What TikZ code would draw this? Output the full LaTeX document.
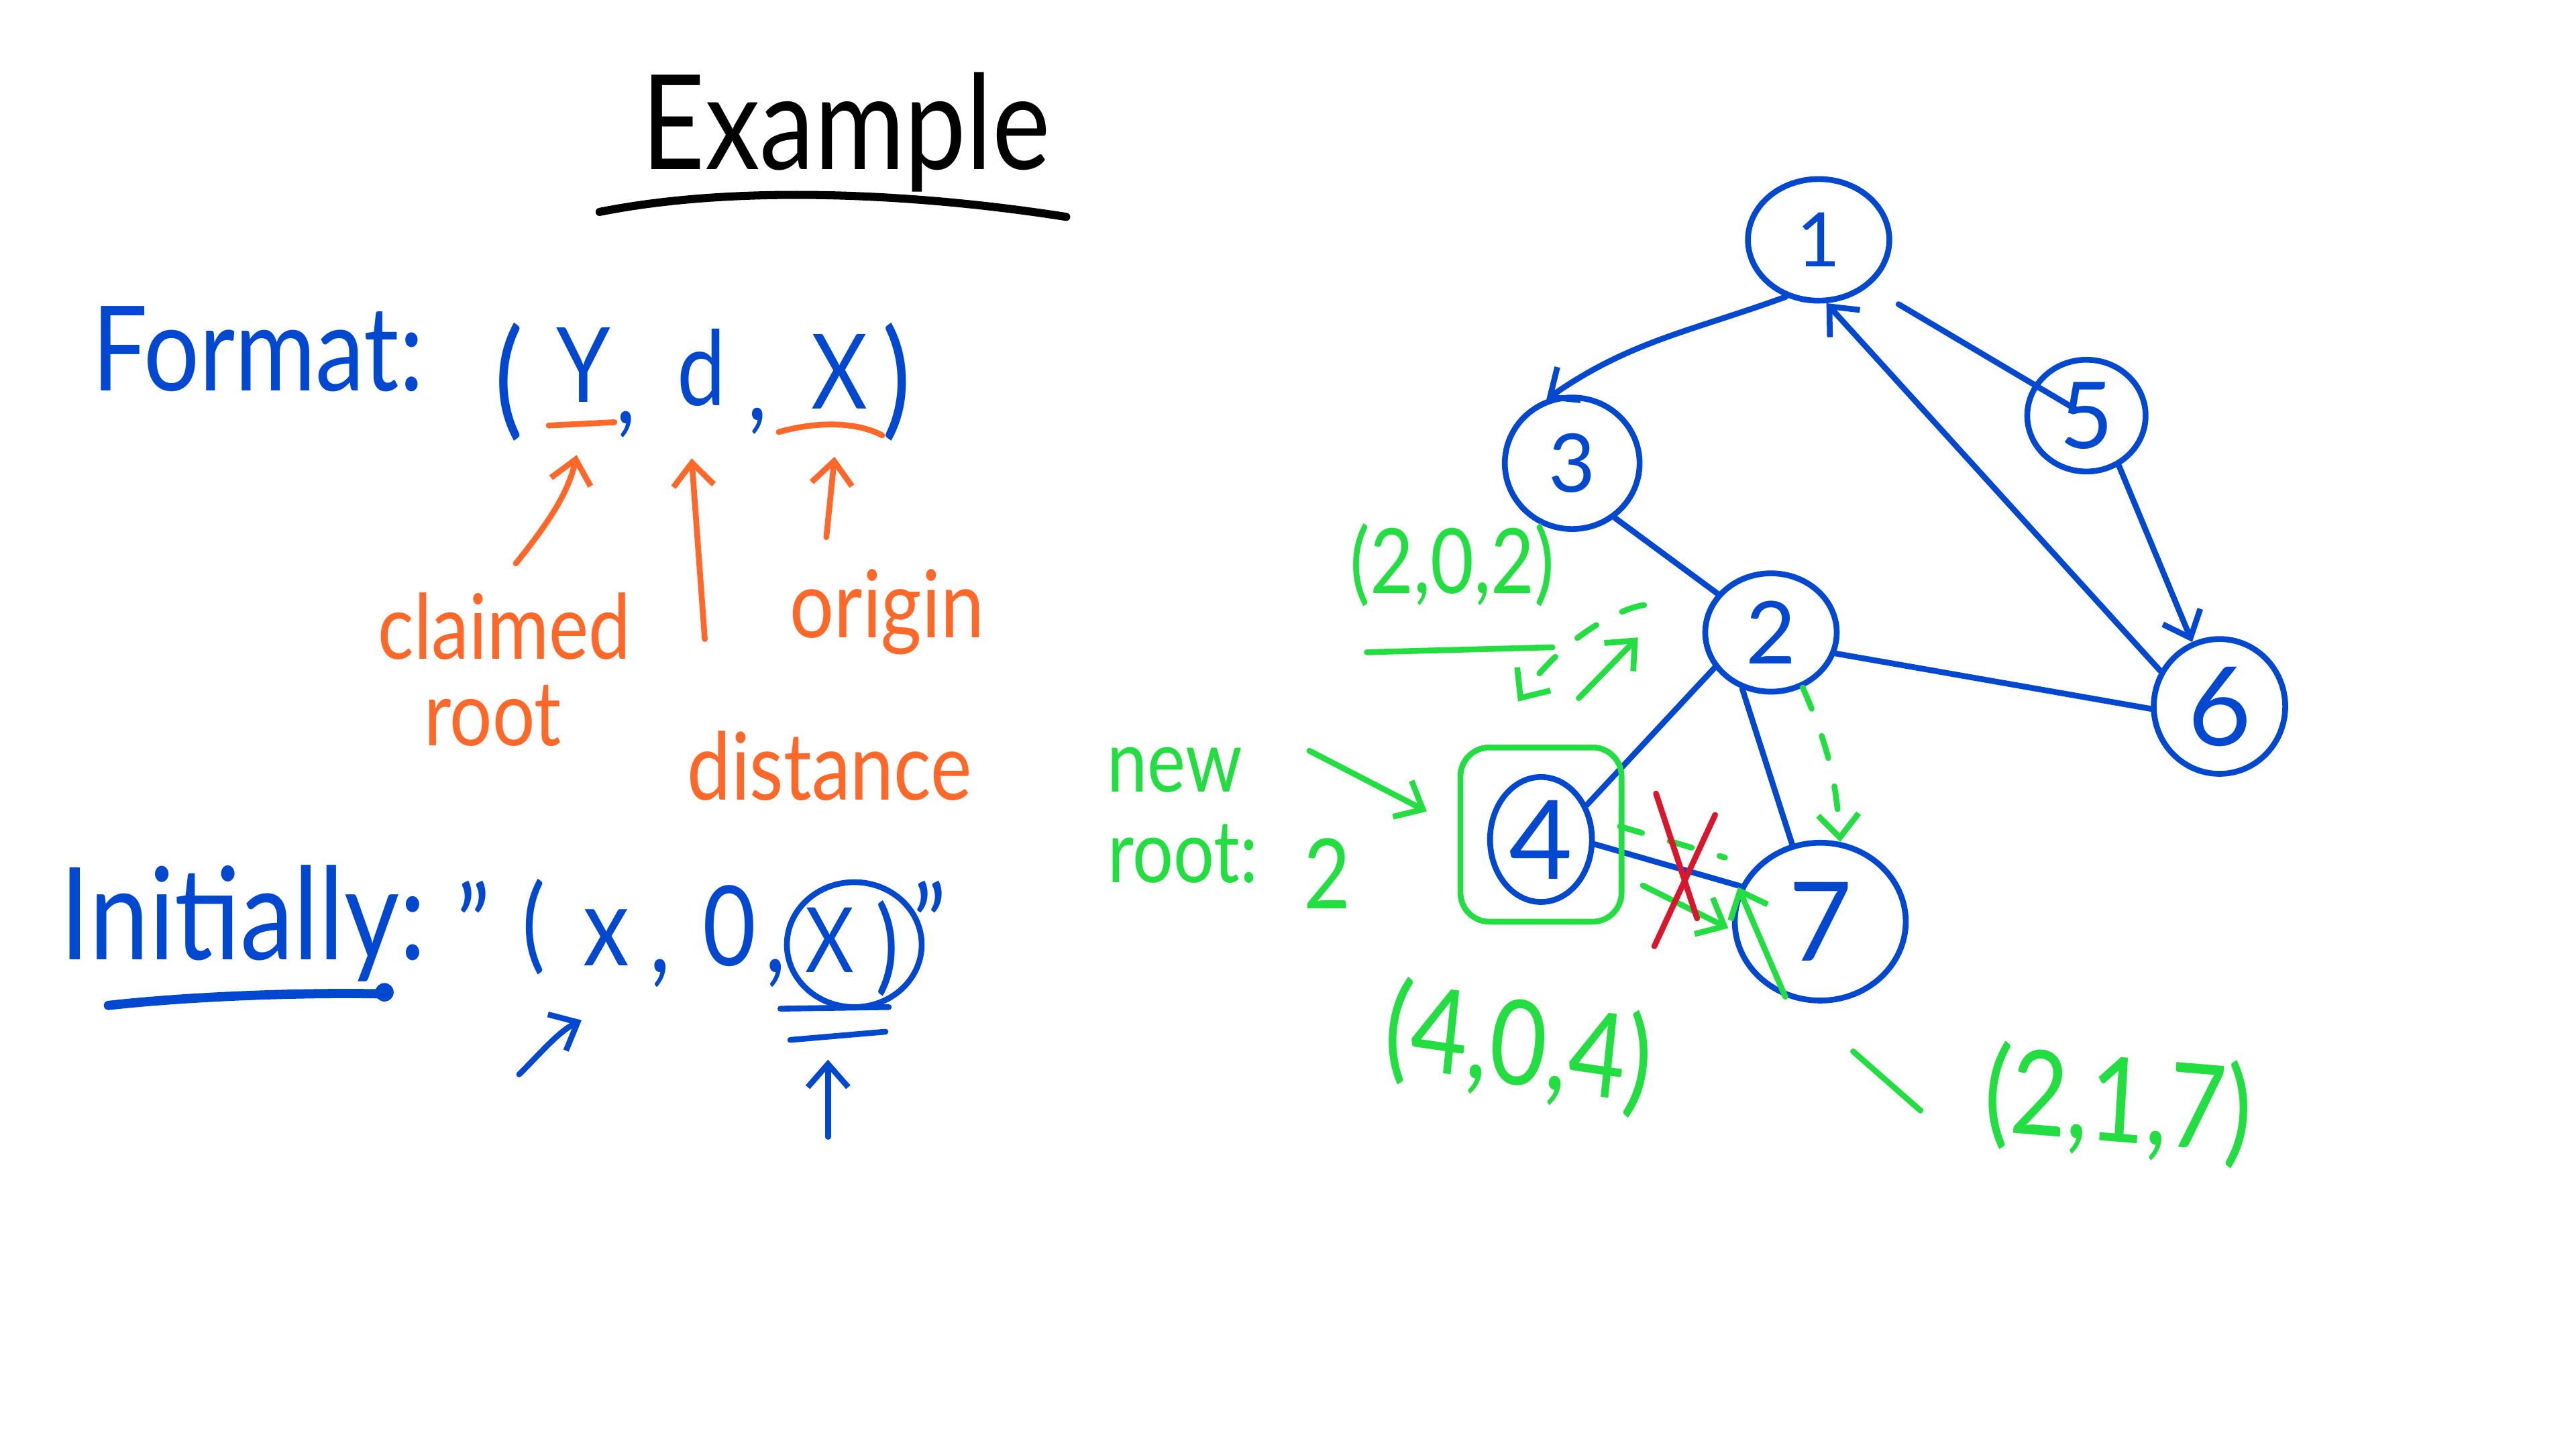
\documentclass[tikz,border=0pt]{standalone}
\usepackage{fontspec}
\setmainfont{Lato}
\usetikzlibrary{shapes.geometric,arrows.meta}

\definecolor{penblue}{RGB}{0,72,208}
\definecolor{pengreen}{RGB}{34,222,64}
\definecolor{penorange}{RGB}{255,104,40}
\definecolor{penred}{RGB}{218,22,44}

\newcommand{\fs}[1]{\fontsize{#1}{#1}\selectfont}

\begin{document}
\begin{tikzpicture}[
    x = 0.01cm, y = -0.01cm,
    pen/.style = {line width = 1pt, line cap = round, line join = round},
    barb/.style = {-{Straight Barb[length=4pt, width=7pt]}},
    hand/.style = {inner sep = 0pt, anchor = base, yscale = 1.2},
    bluetext/.style = {hand, text = penblue},
    greentext/.style = {hand, text = pengreen},
    orangetext/.style = {hand, text = penorange},
    vertex/.style = {ellipse, draw = penblue, pen, inner sep = 0pt, text = penblue},
    bluepen/.style = {pen, draw = penblue},
    greenpen/.style = {pen, draw = pengreen},
    orangepen/.style = {pen, draw = penorange},
    gdash/.style = {greenpen, dash pattern = on 4pt off 5pt}]

\fill[white] (0,0) rectangle (1568,882);
\useasboundingbox (0,0) rectangle (1568,882);

% title
\node[hand, font=\fs{19}] (title) at (515,103) {Example};
\draw[pen, line width=1.4pt] (365,129) .. controls (450,112) and (560,118) .. (649,132);

% format of a message
\node[bluetext, font=\fs{17}] (format) at (157,238) {Format:};
\node[bluetext, font=\fs{18.5}] (fmtL) at (310,257) {(};
\node[bluetext, font=\fs{15}] (fmtY) at (355,245) {Y};
\node[bluetext, font=\fs{15}] (fmtC1) at (381,258) {,};
\node[bluetext, font=\fs{15}] (fmtD) at (427,247) {d};
\node[bluetext, font=\fs{15}] (fmtC2) at (461,256) {,};
\node[bluetext, font=\fs{15}] (fmtX) at (511,249) {X};
\node[bluetext, font=\fs{18.5}] (fmtR) at (546,257) {)};
\draw[orangepen] (334,259) -- (374,257);
\draw[orangepen] (474,263) .. controls (495,257) and (520,256) .. (537,265);

\node[orangetext, font=\fs{13}] (claimed) at (307,401) {claimed};
\node[orangetext, font=\fs{13}] (root) at (300,454) {root};
\node[orangetext, font=\fs{13.5}] (origin) at (540,388) {origin};
\node[orangetext, font=\fs{13.5}] (distance) at (505,487) {distance};
\coordinate (clmA) at (314,343); \coordinate (clmB) at (351,277);
\coordinate (dstA) at (429,389); \coordinate (dstB) at (421,279);
\coordinate (orgA) at (503,327); \coordinate (orgB) at (508,278);
\draw[orangepen, barb] (clmA) .. controls (334,318) and (346,300) .. (clmB);
\draw[orangepen, barb] (dstA) -- (dstB);
\draw[orangepen, barb] (orgA) -- (orgB);

% initial message
\node[bluetext, font=\fs{18.5}] (initially) at (148,584) {Initially:};
\draw[bluepen, line width=1.6pt] (66,612) .. controls (120,606) and (190,604) .. (234,605);
\fill[penblue] (234,604) circle[radius=1.6pt];
\node[bluetext, font=\fs{16}] (iniQL) at (288,588) {"};
\node[bluetext, font=\fs{15}] (iniL) at (325,584) {(};
\node[bluetext, font=\fs{16}] (iniX) at (369,588) {x};
\node[bluetext, font=\fs{16}] (iniC1) at (402,592) {,};
\node[bluetext, font=\fs{16}] (iniZ) at (444,588) {0};
\node[bluetext, font=\fs{16}] (iniC2) at (472,592) {,};
\node[bluetext, font=\fs{13}] (iniO) at (505,592) {X};
\node[bluetext, font=\fs{15}] (iniR) at (540,597) {)};
\node[bluetext, font=\fs{16}] (iniQR) at (566,588) {"};
\node[ellipse, draw=penblue, pen, minimum width=0.82cm, minimum height=0.76cm] (iniRing) at (520,575) {};
\draw[bluepen] (475,614) -- (541,613);
\draw[bluepen] (481,633) -- (539,628);
\coordinate (iniA) at (316,654); \coordinate (iniB) at (354,621);
\coordinate (iniC) at (504,692); \coordinate (iniD) at (504,645);
\draw[bluepen, barb] (iniA) .. controls (330,640) and (340,628) .. (iniB);
\draw[bluepen, barb] (iniC) -- (iniD);

% graph
\node[vertex, minimum width=0.86cm, minimum height=0.74cm, font=\fs{13}] (n1) at (1107,146) {1};
\node[vertex, minimum width=0.82cm, minimum height=0.80cm, font=\fs{14}] (n3) at (957,282) {3};
\node[vertex, minimum width=0.72cm, minimum height=0.68cm, font=\fs{16}] (n5) at (1270,253) {5};
\node[vertex, minimum width=0.80cm, minimum height=0.72cm, font=\fs{15}] (n2) at (1078,385) {2};
\node[vertex, minimum width=0.80cm, minimum height=0.82cm, font=\fs{19}] (n6) at (1351,430) {6};
\node[vertex, minimum width=0.62cm, minimum height=0.76cm, font=\fs{19}] (n4) at (938,511) {4};
\node[vertex, minimum width=1.04cm, minimum height=0.96cm, font=\fs{19}] (n7) at (1108,561) {7};

\draw[bluepen, barb] (n1.240) to[out=200, in=35] (n3.112);
\draw[bluepen, shorten <=6pt, shorten >=2pt] (n1.317) -- (n5.center);
\draw[bluepen, barb] (n6.149) -- (n1.277);
\draw[bluepen, barb] (n5.303) -- (n6.113);
\draw[bluepen] (n3.308) -- (n2.144);
\draw[bluepen] (n2.342) -- (n6.182);
\draw[bluepen] (n2.212) -- (n4.37);
\draw[bluepen] (n2.243) -- (n7.110);
\draw[bluepen] (n4.355) -- (n7.156);

% messages on the graph
\node[greentext, font=\fs{13}] (res202) at (884,361) {(2,0,2)};
\draw[greenpen] (832,397) -- (945,394);
\coordinate (ret202) at (924,427);
\draw[gdash, barb, shorten <=12pt] (n2.150) to[out=185, in=55] (ret202);
\coordinate (upA) at (961,425); \coordinate (upB) at (997,388);
\draw[greenpen, barb] (upA) -- (upB);
\draw[gdash, barb] (n2.300) to[bend left=10] (n7.76);

\node[draw=pengreen, pen, rounded corners=5pt, minimum width=0.98cm, minimum height=1.06cm] (box4) at (938,508) {};
\node[greentext, font=\fs{12.5}] (lnew) at (715,482) {new};
\node[greentext, font=\fs{12.5}] (lroot) at (720,537) {root:};
\node[greentext, font=\fs{14}] (lroot2) at (808,553) {2};
\coordinate (nrA) at (797,457);
\draw[greenpen, barb, shorten >=6pt] (nrA) -- (box4.175);

\coordinate (d47a) at (986,503); \coordinate (d47b) at (1050,522);
\draw[gdash] (d47a) -- (d47b);
\coordinate (s47a) at (1000,539); \coordinate (s47b) at (1052,565);
\draw[greenpen, barb] (s47a) -- (s47b);
\coordinate (in7b) at (1058,540);
\draw[greenpen, barb] (n7.245) -- (in7b);

% cut edge
\draw[pen, draw=penred] (1008,483) -- (1033,559);
\draw[pen, draw=penred] (1044,496) -- (1007,576);

\node[greentext, font=\fs{17}, rotate=-7] (res404) at (922,660) {(4,0,4)};
\node[greentext, font=\fs{17}, rotate=-4] (res217) at (1288,695) {(2,1,7)};
\coordinate (slA) at (1169,676); \coordinate (slB) at (1128,640);
\draw[greenpen] (slA) -- (slB);
\end{tikzpicture}
\end{document}
